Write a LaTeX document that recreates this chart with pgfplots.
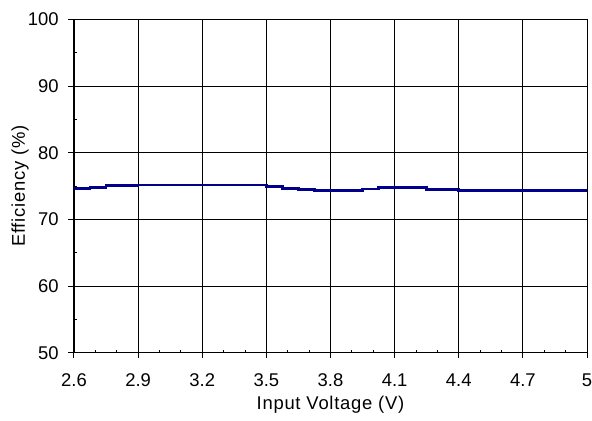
\documentclass[border=0pt]{standalone}
\usepackage{pgfplots}
\pgfplotsset{compat=1.18}
\usepackage{fontspec}
\setmainfont{Liberation Sans}
\definecolor{navyline}{RGB}{0,0,140}
\begin{document}
\fontsize{18.5}{22}\selectfont
\begin{tikzpicture}
\begin{axis}[
  scale only axis,
  width=513bp, height=333.2bp,
  xmin=2.6, xmax=5, ymin=50, ymax=100,
  xtick={2.6,2.9,...,5.0},
  xticklabels={2.6,2.9,3.2,3.5,3.8,4.1,4.4,4.7,5},
  ytick={50,60,...,100},
  minor x tick num=2,
  minor y tick num=1,
  tick pos=left,
  tick align=inside,
  major tick length=5bp,
  minor tick length=3bp,
  grid=major,
  major grid style={black, line width=0.9bp},
  axis line style={black, line width=1bp},
  every tick/.style={black, line width=1bp},
  /pgf/number format/assume math mode=true,
  ticklabel style={font=\fontsize{18.5}{22}\selectfont},
  xticklabel style={anchor=north, yshift=-15bp},
  yticklabel style={anchor=east, xshift=-9bp},
  label style={font=\fontsize{18.5}{22}\selectfont\addfontfeatures{LetterSpace=4}},
  xlabel={Input Voltage (V)},
  ylabel={Efficiency (\%)},
  xlabel style={at={([yshift=-52.5bp]axis description cs:0.5,0)}, anchor=center},
  ylabel style={at={([xshift=-54bp]axis description cs:0,0.5)}, anchor=center},
]
\addplot[const plot, navyline, line width=2.6bp] coordinates {
(2.6,74.6) (2.675,74.81) (2.75,75.05) (2.9,75.16) (3.5,74.9) (3.575,74.66)
(3.65,74.51) (3.725,74.36) (3.95,74.56) (4.025,74.75) (4.25,74.51)
(4.4,74.36) (5,74.36)
};
\end{axis}
\begin{axis}[
  scale only axis,
  width=513bp, height=333.2bp,
  xmin=2.6, xmax=5, ymin=50, ymax=100,
  xtick={2.6,2.9,...,5.0},
  ytick={50,60,...,100},
  xticklabels={}, yticklabels={},
  minor tick num=0,
  xtick pos=bottom, ytick pos=left,
  xtick align=outside, ytick align=outside,
  major tick length=5.5bp,
  axis line style={draw=none},
  every tick/.style={black, line width=1bp},
]
\end{axis}
\pgfresetboundingbox
\path (current axis.south west) ++(-74bp,-68.3bp) coordinate (bl);
\path (current axis.north east) ++(5bp,19.5bp) coordinate (tr);
\path[use as bounding box] (bl) rectangle (tr);
\end{tikzpicture}
\end{document}
